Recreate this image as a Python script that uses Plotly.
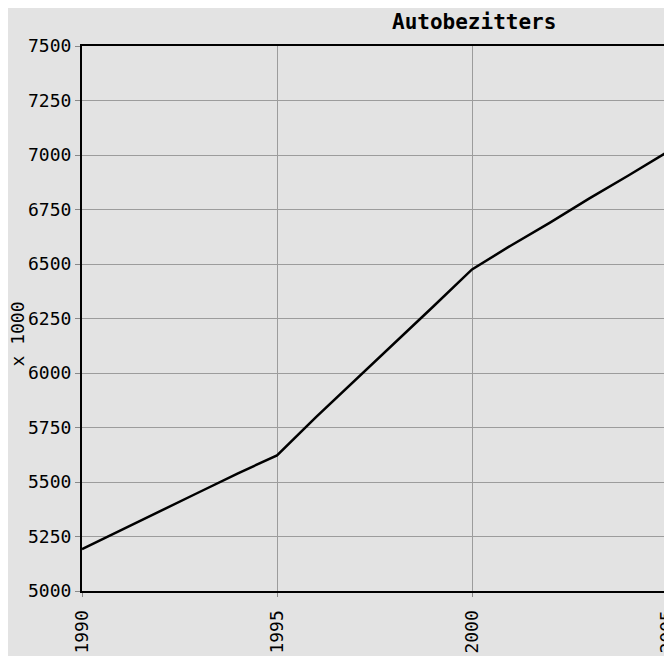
import plotly.graph_objects as go

years = list(range(1990, 2006))
owners = [5192, 5280, 5367, 5453, 5540, 5622, 5798, 5966, 6133, 6304,
          6475, 6585, 6690, 6800, 6905, 7013]
x_ticks = [1990, 1995, 2000, 2005]
y_ticks = list(range(5000, 7501, 250))
title_text = "Autobezitters"
y_title = "x 1000"

BG = "#e3e3e3"
GRID = "#9c9c9c"
LABEL_FONT = dict(family="DejaVu Sans Mono", size=18, color="black")

fig = go.Figure()
fig.add_trace(go.Scatter(x=years, y=owners, mode="lines",
                         line=dict(color="black", width=2.5),
                         showlegend=False, hoverinfo="skip"))

# the page adds an 8px body margin; positions below are in page pixels
OFF = 8
W, H = 672, 656
ml, mr, mt, mb = 74, 13, 38, 73
pw, ph = W - ml - mr, H - mt - mb

def px_x(p):
    return (p - OFF - ml) / pw

def px_y(p):
    return (H - mb - (p - OFF)) / ph

fig.add_annotation(text=title_text, xref="paper", yref="paper",
                   x=px_x(474), y=px_y(22), xanchor="center", yanchor="middle",
                   showarrow=False,
                   font=dict(family="DejaVu Sans Mono", size=21, color="black",
                             weight="bold"))
fig.add_annotation(text=y_title, xref="paper", yref="paper",
                   x=px_x(16.5), y=px_y(334), xanchor="center", yanchor="middle",
                   textangle=-90, showarrow=False, font=LABEL_FONT)

fig.update_layout(
    width=W, height=H,
    margin=dict(l=ml, r=mr, t=mt, b=mb, pad=0, autoexpand=False),
    paper_bgcolor=BG, plot_bgcolor=BG,
    font=LABEL_FONT,
)
fig.update_xaxes(range=[1990, 2005], tickvals=x_ticks, ticktext=[str(v) for v in x_ticks],
                 tickangle=-90, showgrid=True, gridcolor=GRID, gridwidth=1,
                 showline=True, linecolor="black", linewidth=2, mirror=True,
                 ticks="outside", ticklen=4, tickcolor="#888888", tickwidth=1,
                 ticklabelstandoff=6, zeroline=False, tickfont=LABEL_FONT,
                 automargin=False)
fig.update_yaxes(range=[5000, 7500], tickvals=y_ticks,
                 showgrid=True, gridcolor=GRID, gridwidth=1,
                 showline=True, linecolor="black", linewidth=2, mirror=True,
                 ticks="outside", ticklen=5, tickcolor="#888888", tickwidth=1,
                 zeroline=False, tickfont=LABEL_FONT, automargin=False)

fig.write_html("out.html",
               post_script="document.documentElement.style.overflow='hidden';"
                           "document.body.style.overflow='hidden';")
